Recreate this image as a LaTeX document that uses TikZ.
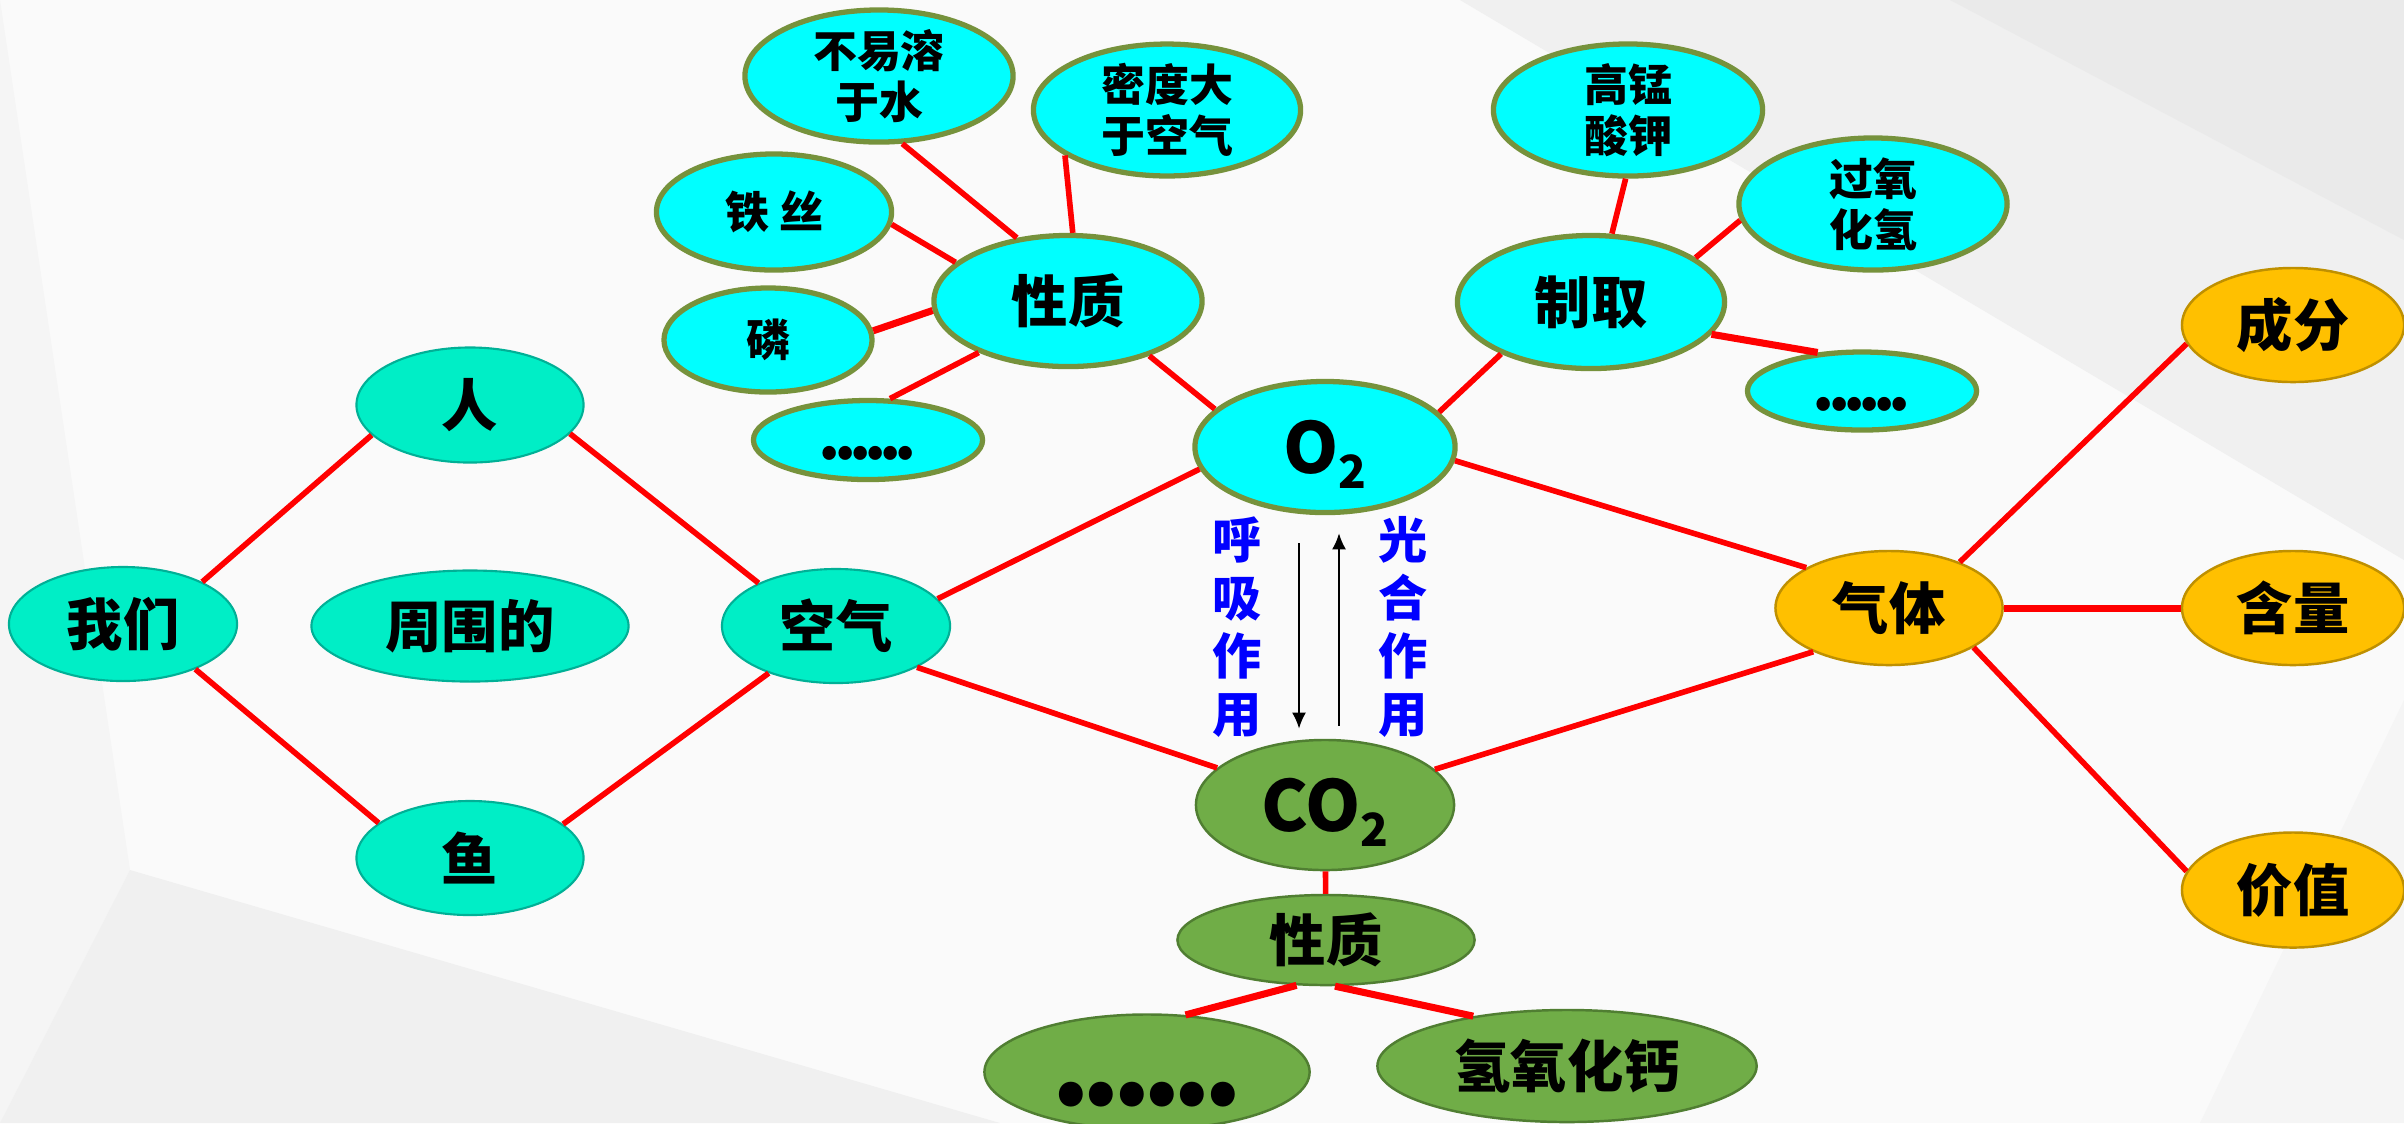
\documentclass[tikz,border=0pt]{standalone}
\usepackage{fontspec}
\setmainfont{Noto Sans CJK SC}[BoldFont={Noto Sans CJK SC Black}]
\usepackage{tikz}
\usetikzlibrary{shapes.geometric, arrows.meta, calc}

\definecolor{bgA}{RGB}{250,250,250}
\definecolor{bgB}{RGB}{245,245,245}
\definecolor{bgC}{RGB}{240,240,240}
\definecolor{bgD}{RGB}{234,234,234}
\definecolor{mintfill}{RGB}{0,238,198}
\definecolor{mintline}{RGB}{0,176,150}
\definecolor{aquafill}{RGB}{0,255,255}
\definecolor{oliveline}{RGB}{118,146,60}
\definecolor{leaffill}{RGB}{112,173,71}
\definecolor{leafline}{RGB}{80,126,50}
\definecolor{amberfill}{RGB}{255,192,0}
\definecolor{amberline}{RGB}{191,144,0}

\newcommand{\dotrow}[1]{.\kern#1.\kern#1.\kern#1.\kern#1.\kern#1.}

\begin{document}
\begin{tikzpicture}[x=0.01cm, y=-0.01cm,
    base/.style={ellipse, inner sep=0pt, align=center, font=\bfseries\fontsize{16}{19}\selectfont},
    surround/.style={base, fill=mintfill, draw=mintline, line width=0.6pt},
    oxygen/.style={base, fill=aquafill, draw=oliveline, line width=1.5pt},
    carbon/.style={base, fill=leaffill, draw=leafline, line width=0.7pt},
    gas/.style={base, fill=amberfill, draw=amberline, line width=0.7pt},
    small/.style={font=\bfseries\fontsize{12.5}{14.5}\selectfont},
    dots/.style={font=\bfseries\fontsize{18}{18}\selectfont, text height=11pt, text depth=0pt},
    formula/.style={text depth=0pt},
    wh/.style 2 args={minimum width=#1cm, minimum height=#2cm},
    link/.style={red, line width=1.6pt},
    thick link/.style={red, line width=2pt},
    flow/.style={-{Latex[length=4.6pt,width=4pt]}, line width=0.6pt},
    bio/.style={text=blue, inner sep=0pt, align=center, font=\bfseries\fontsize{14}{16.5}\selectfont}
    ]
    \useasboundingbox (0,0) rectangle (2404,1123);
    \fill[bgA] (0,0) rectangle (2404,1123);
    \fill[bgB] (0,0) -- (130,870) -- (0,1123) -- cycle;
    \fill[bgC] (0,1123) -- (130,870) -- (1000,1123) -- cycle;
    \fill[bgC] (1460,0) -- (2404,0) -- (2404,560) -- cycle;
    \fill[bgD] (1950,0) -- (2404,0) -- (2404,240) -- cycle;
    \fill[bgB] (2404,700) -- (2404,1123) -- (2200,1123) -- cycle;

    \node[surround, wh={2.28}{1.14}] (wo) at (123,624) {我们};
    \node[surround, wh={3.17}{1.11}] (zhouwei) at (470,626) {周围的};
    \node[surround, wh={2.27}{1.15}] (ren) at (470,405) {人};
    \node[surround, wh={2.27}{1.14}] (yu) at (470,858) {鱼};
    \node[surround, wh={2.28}{1.14}] (kongqi) at (836,626) {空气};

    \node[oxygen, formula, wh={2.60}{1.31}] (o2) at (1325,447)
        {\fontsize{20}{24}\selectfont O\raisebox{-4.3pt}{\fontsize{13}{13}\selectfont 2}};
    \node[oxygen, wh={2.68}{1.31}] (xzO) at (1068,301) {性质};
    \node[oxygen, small, wh={2.68}{1.32}] (burong) at (879,76) {不易溶\\于水};
    \node[oxygen, small, wh={2.67}{1.31}] (midu) at (1167,110) {密度大\\于空气};
    \node[oxygen, small, wh={2.35}{1.16}] (tiesi) at (774,212) {铁 丝};
    \node[oxygen, small, wh={2.08}{1.04}] (lin) at (768,340) {磷};
    \node[oxygen, dots, wh={2.29}{0.79}] (dotsO) at (868,440) {\dotrow{-2pt}};
    \node[oxygen, wh={2.67}{1.33}] (zhiqu) at (1591,302) {制取};
    \node[oxygen, small, wh={2.69}{1.32}] (gmsj) at (1628,110) {高锰\\酸钾};
    \node[oxygen, small, wh={2.68}{1.32}] (gyhq) at (1873,204) {过氧\\化氢};
    \node[oxygen, dots, wh={2.29}{0.78}] (dotsZ) at (1862,391) {\dotrow{-2pt}};

    \node[carbon, formula, wh={2.58}{1.30}] (co2) at (1325,805)
        {\fontsize{20}{24}\selectfont CO\raisebox{-4.3pt}{\fontsize{13}{13}\selectfont 2}};
    \node[carbon, wh={2.97}{0.90}] (xzC) at (1326,940) {性质};
    \node[carbon, font=\bfseries\fontsize{32}{32}\selectfont, text height=19.3pt, text depth=0pt,
        wh={3.25}{1.15}] (dotsC) at (1147,1072) {\dotrow{-2.6pt}};
    \node[carbon, wh={3.79}{1.12}] (caoh) at (1567,1066) {氢氧化钙};

    \node[gas, wh={2.27}{1.14}] (qiti) at (1889,608) {气体};
    \node[gas, wh={2.22}{1.14}] (chengfen) at (2293,325) {成分};
    \node[gas, wh={2.22}{1.14}] (hanliang) at (2293,608) {含量};
    \node[gas, wh={2.22}{1.15}] (jiazhi) at (2293,890) {价值};

    \node[bio] (huxi) at (1237,627) {呼\\吸\\作\\用};
    \node[bio] (guanghe) at (1403,627) {光\\合\\作\\用};

    \draw[link]
        (wo.28) edge (ren.197)
        (wo.-32) edge (yu.159)
        (ren.-16) edge (kongqi.151)
        (yu.20) edge (kongqi.215)
        (kongqi.15) edge (o2.190)
        (kongqi.-27) edge (co2.161)
        (o2.-6) edge (qiti.154)
        (co2.18) edge (qiti.210)
        (qiti.33) edge (chengfen.190)
        (qiti.-25) edge (jiazhi.170)
        (o2.161) edge (xzO.-34)
        (o2.17) edge (zhiqu.210)
        (xzO.129) edge (burong.-71)
        (xzO.86) edge (midu.204)
        (xzO.161) edge (tiesi.-6)
        (xzO.210) edge (dotsO.62)
        (zhiqu.73) edge (gmsj.-92)
        (zhiqu.23) edge (gyhq.187)
        (co2) edge (xzC)
        ;
    \draw[thick link]
        (qiti) edge (hanliang)
        (xzO.184) edge (lin.5)
        (zhiqu.-15) edge (dotsZ.139)
        (xzC.237) edge (dotsC.56)
        (xzC.-79) edge (caoh.152)
        ;

    \draw[flow] ($(o2.south)+(-26,28)$) -- ($(co2.north)+(-26,-10)$);
    \draw[flow] ($(co2.north)+(14,-13)$) -- ($(o2.south)+(14,18)$);
\end{tikzpicture}
\end{document}
